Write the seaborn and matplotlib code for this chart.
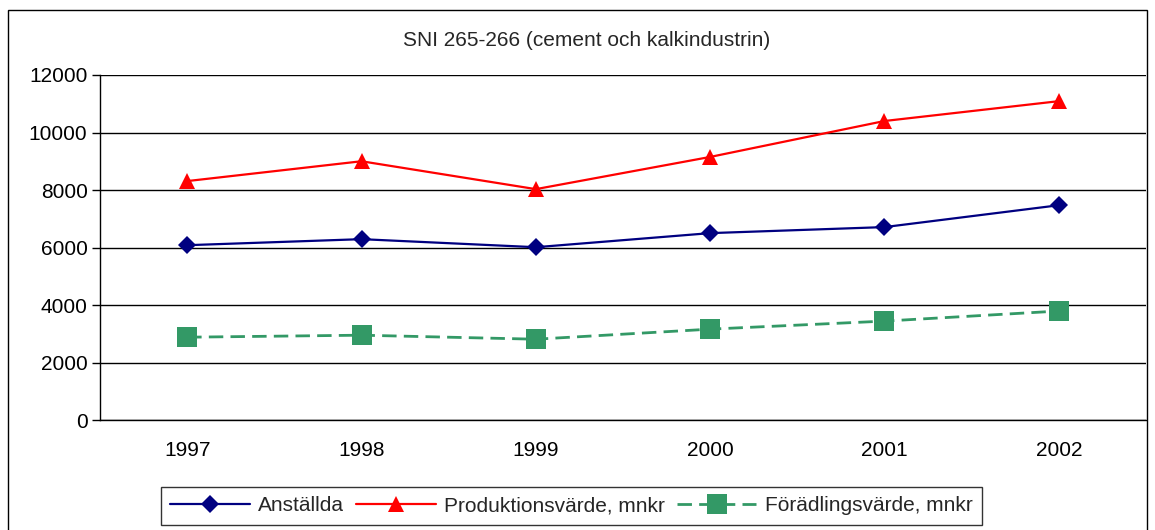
import matplotlib
matplotlib.use("Agg")
import matplotlib.pyplot as plt
import pandas as pd
import seaborn as sns
from matplotlib.patches import Rectangle

# ---------------------------------------------------------------------------
# Data
# ---------------------------------------------------------------------------
YEARS = ["1997", "1998", "1999", "2000", "2001", "2002"]
ANSTALLDA = [6080, 6290, 6010, 6500, 6710, 7470]
PRODUKTION = [8310, 9000, 8030, 9150, 10400, 11090]
FORADLING = [2880, 2950, 2810, 3160, 3440, 3790]

SERIES = ["Anställda", "Produktionsvärde, mnkr", "Förädlingsvärde, mnkr"]
COLORS = ["#000080", "#FF0000", "#339966"]
MARKERS = ["D", "^", "s"]
MARKER_SIZES = [9.5, 11, 14.5]
LINE_WIDTHS = [1.6, 1.6, 2.0]
DASHES = ["", "", (5.2, 2.6)]

TITLE = "SNI 265-266 (cement och kalkindustrin)"
FS = 15

sns.set_theme(style="white")
plt.rcParams["font.family"] = ["Liberation Sans", "DejaVu Sans"]

df = pd.DataFrame({
    "year": YEARS * 3,
    "x": list(range(len(YEARS))) * 3,
    "value": ANSTALLDA + PRODUKTION + FORADLING,
    "serie": [s for s in SERIES for _ in YEARS],
})

fig = plt.figure(figsize=(11.55, 5.3), dpi=100)
ax = fig.add_axes([100 / 1155, 1 - 420 / 530, 1046 / 1155, 345 / 530])

sns.lineplot(
    data=df, x="x", y="value", hue="serie", style="serie",
    hue_order=SERIES, style_order=SERIES,
    palette=COLORS, markers=MARKERS, dashes=DASHES,
    linewidth=1.6, markeredgewidth=0, ax=ax, legend=False,
)
for line, ms, lw in zip(ax.get_lines(), MARKER_SIZES, LINE_WIDTHS):
    line.set_markersize(ms)
    line.set_linewidth(lw)

ax.set_xlim(-0.5, len(YEARS) - 0.5)
ax.set_ylim(0, 12000)
ax.set_yticks(range(0, 12001, 2000))
ax.set_xticks(range(len(YEARS)))
ax.set_xticklabels(YEARS)
ax.set_xticks([i - 0.5 for i in range(len(YEARS) + 1)], minor=True)
ax.tick_params(axis="x", which="major", length=0, labelsize=FS, pad=15, colors="black")
ax.tick_params(axis="x", which="minor", length=6, width=1, direction="out", colors="black")
ax.tick_params(axis="y", length=6, width=1, direction="out", labelsize=FS, colors="black",
               left=True, pad=3)
ax.set_xlabel("")
ax.set_ylabel("")
ax.grid(axis="y", color="black", linewidth=1)
ax.set_axisbelow(True)
for side in ["top", "right"]:
    ax.spines[side].set_visible(False)
for side in ["left", "bottom"]:
    ax.spines[side].set_color("black")
    ax.spines[side].set_linewidth(1)

fig.text(0.5 * (397 + 776) / 1155, 1 - 40 / 530, TITLE, ha="center", va="center", fontsize=FS)

# legend
handles = []
for name, c, m, ms, lw, d in zip(SERIES, COLORS, MARKERS, MARKER_SIZES, LINE_WIDTHS, DASHES):
    h, = ax.plot([], [], color=c, marker=m, markersize=ms, markeredgewidth=0,
                 linewidth=lw, linestyle="--" if d else "-", label=name)
    if d:
        h.set_dashes(d)
    handles.append(h)
leg = fig.legend(
    handles=handles, loc="upper left", bbox_to_anchor=(161 / 1155, 1 - 487 / 530),
    ncol=3, frameon=True, fontsize=FS, handlelength=3.8, handletextpad=0.4,
    columnspacing=0.6, borderpad=0.45, borderaxespad=0, fancybox=False,
)
leg.get_frame().set_edgecolor("black")
leg.get_frame().set_linewidth(1)

# outer chart border
fig.patches.append(Rectangle((8 / 1155, -0.05), 1139 / 1155, 1 - 10 / 530 + 0.05,
                             transform=fig.transFigure, fill=False,
                             edgecolor="black", linewidth=1))

fig.savefig("out.png", dpi=100)
